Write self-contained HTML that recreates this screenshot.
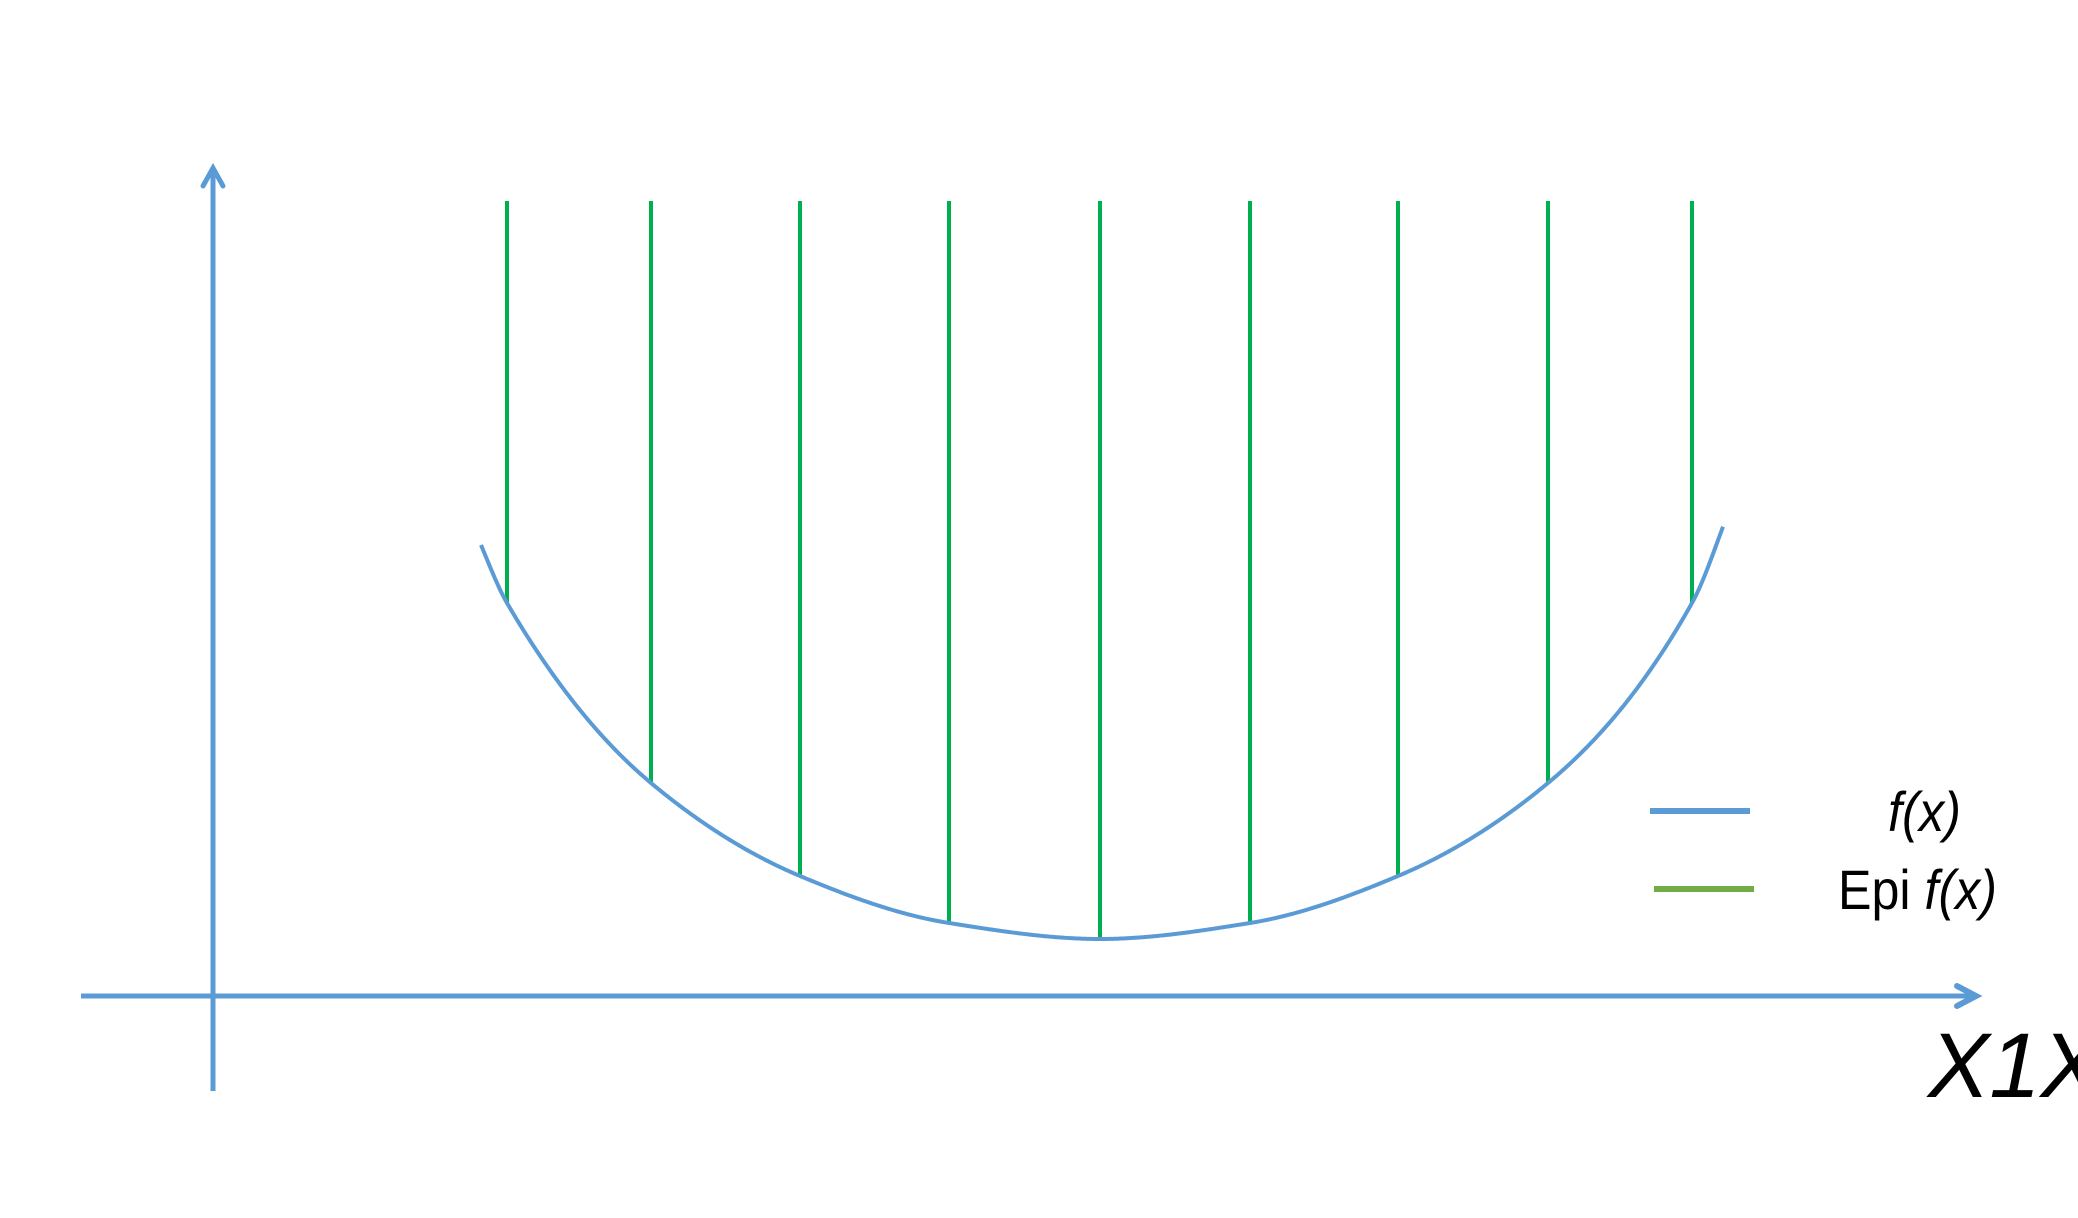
<!DOCTYPE html>
<html><head><meta charset="utf-8"><style>
html,body{margin:0;padding:0;background:#fff;}
svg{display:block;}
text{font-family:"Liberation Sans","DejaVu Sans",sans-serif;fill:#000;}
</style></head><body>
<svg id="chart" width="2078" height="1218" viewBox="0 0 2078 1218">
<g id="axes">
<line x1="81" y1="996" x2="1970" y2="996" stroke="#5B9BD5" stroke-width="5"/>
<polyline points="1957,986 1976,996 1957,1006" fill="none" stroke="#5B9BD5" stroke-width="6" stroke-linecap="round"/>
<line x1="213" y1="1091" x2="213" y2="170" stroke="#5B9BD5" stroke-width="5"/>
<polyline points="203,186 213,168 223,186" fill="none" stroke="#5B9BD5" stroke-width="5" stroke-linecap="round"/>
</g>
<g id="epi"></g>
<path id="curve" fill="none" stroke="#5B9BD5" stroke-width="4"/>
<g>
<line x1="1650" y1="811" x2="1750" y2="811" stroke="#5B9BD5" stroke-width="6"/>
<text x="1888" y="831" font-size="56" font-style="italic" textLength="73" lengthAdjust="spacingAndGlyphs">f(x)</text>
<line x1="1654" y1="889" x2="1754" y2="889" stroke="#70AD47" stroke-width="6"/>
<text x="1838" y="909" font-size="56" textLength="159" lengthAdjust="spacingAndGlyphs">Epi <tspan font-style="italic">f(x)</tspan></text>
</g>
<text x="1928" y="1097" font-size="92" font-style="italic">X1X</text>
</svg>
<script>
const sampleX = [29.4, 43.8, 58.7, 73.6, 88.7, 103.7, 118.5, 133.5, 147.9];
const sampleF = [39.3, 21.3, 12.0, 7.3, 5.7, 7.3, 12.0, 21.3, 39.3];
const curveX = [26.8, 29.4, 43.8, 58.7, 73.6, 88.7, 103.7, 118.5, 133.5, 147.9, 151.1];
const curveF = [45.1, 39.3, 21.3, 12.0, 7.3, 5.7, 7.3, 12.0, 21.3, 39.3, 47.2];
const epiTop = 79.5;
function xs(v){return 213 + v*10;}
function ys(v){return 996 - v*10;}
const g = document.getElementById('epi');
for (let i=0;i<sampleX.length;i++){
  const l = document.createElementNS('http://www.w3.org/2000/svg','line');
  l.setAttribute('x1', xs(sampleX[i])); l.setAttribute('x2', xs(sampleX[i]));
  l.setAttribute('y1', ys(epiTop)); l.setAttribute('y2', ys(sampleF[i]));
  l.setAttribute('stroke', '#00B050'); l.setAttribute('stroke-width', '4');
  
  
  g.appendChild(l);
}
// Fritsch-Carlson monotone cubic (PCHIP-style) tangents
function pchip(X, Y){
  const n = X.length, h = [], dl = [], m = new Array(n);
  for (let i=0;i<n-1;i++){ h.push(X[i+1]-X[i]); dl.push((Y[i+1]-Y[i])/h[i]); }
  for (let i=1;i<n-1;i++){
    if (dl[i-1]*dl[i] <= 0) { m[i] = 0; continue; }
    const w1 = 2*h[i]+h[i-1], w2 = h[i]+2*h[i-1];
    m[i] = (w1+w2)/(w1/dl[i-1] + w2/dl[i]);
  }
  m[0] = ((2*h[0]+h[1])*dl[0] - h[0]*dl[1])/(h[0]+h[1]);
  m[n-1] = ((2*h[n-2]+h[n-3])*dl[n-2] - h[n-2]*dl[n-3])/(h[n-2]+h[n-3]);
  return function(x){
    let i = 0;
    while (i < n-2 && x > X[i+1]) i++;
    const t = (x - X[i])/h[i], t2=t*t, t3=t2*t;
    return (2*t3-3*t2+1)*Y[i] + (t3-2*t2+t)*h[i]*m[i] + (-2*t3+3*t2)*Y[i+1] + (t3-t2)*h[i]*m[i+1];
  };
}
const fy = pchip(curveX, curveF);
const x0 = curveX[0], x1 = curveX[curveX.length-1];
let d = '';
for (let x = x0; x <= x1 + 1e-9; x += 0.2){
  const xx = Math.min(x, x1);
  d += (d ? ' L' : 'M') + xs(xx).toFixed(2) + ',' + ys(fy(xx)).toFixed(2);
}
document.getElementById('curve').setAttribute('d', d);
</script>
</body></html>
